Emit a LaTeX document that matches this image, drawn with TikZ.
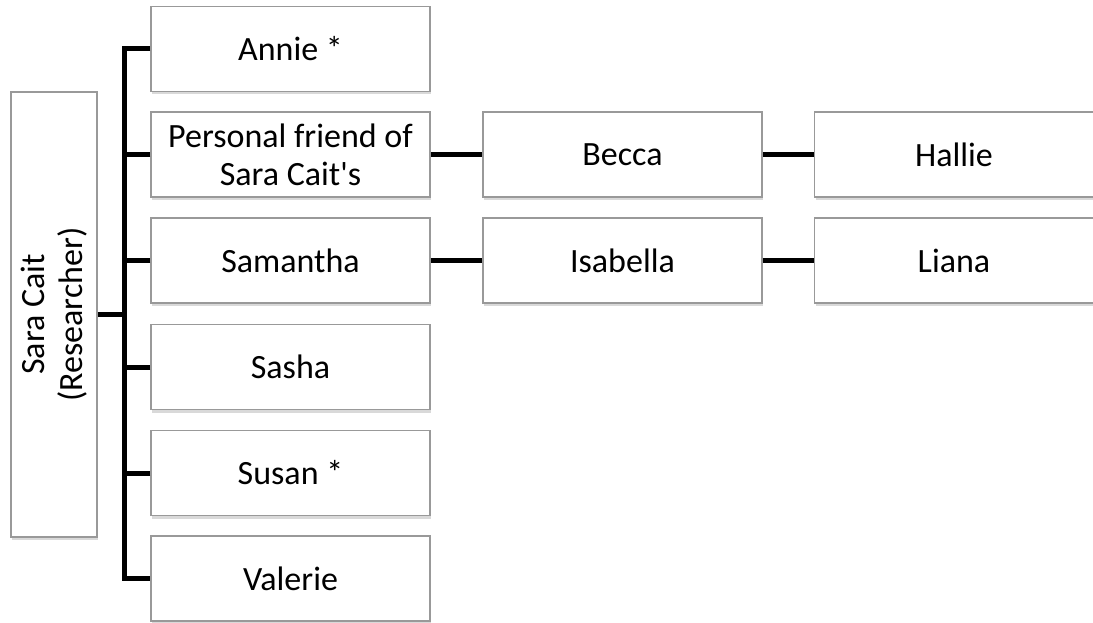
\documentclass[tikz,border=0pt]{standalone}
\usepackage{fontspec}
\setmainfont{Carlito}[Ligatures=TeXOff]
\usetikzlibrary{shadows}

\begin{document}
\begin{tikzpicture}[x=1pt,y=-1pt,
  person/.style={draw=black!40,line width=1.5pt,fill=white,
    minimum width=279pt,minimum height=85pt,inner sep=0pt,align=center,
    font=\fontsize{34}{38}\selectfont,
    drop shadow={shadow xshift=1pt,shadow yshift=-3pt,opacity=0.3}},
  link/.style={line width=5pt}]
  \useasboundingbox (0,0) rectangle (1093,623);
  % researcher
  \node[person,minimum width=445pt,minimum height=86pt,rotate=90] (root) at (54,314.5) {Sara Cait\\(Researcher)};
  \coordinate (trunk) at (124,315);
  % first wave
  \node[person] (annie) at (290.5,49) {Annie *};
  \node[person] (friend) at (290.5,154.5) {Personal friend of\\Sara Cait's};
  \node[person] (samantha) at (290.5,260.5) {Samantha};
  \node[person] (sasha) at (290.5,367) {Sasha};
  \node[person] (susan) at (290.5,473) {Susan *};
  \node[person] (valerie) at (290.5,578.5) {Valerie};
  % referrals
  \node[person] (becca) at (622.5,154.5) {Becca};
  \node[person] (hallie) at (954,154.5) {Hallie};
  \node[person] (isabella) at (622.5,260.5) {Isabella};
  \node[person] (liana) at (954,260.5) {Liana};
  \draw[link] (root.south) -- (root.south -| trunk);
  \draw[link] (annie.west) -- (annie.west -| trunk) -- (valerie.west -| trunk) -- (valerie.west);
  \foreach \n in {friend,samantha,sasha,susan}
    \draw[link] (\n.west) -- (\n.west -| trunk);
  \draw[link] (friend) -- (becca);
  \draw[link] (becca) -- (hallie);
  \draw[link] (samantha) -- (isabella);
  \draw[link] (isabella) -- (liana);
\end{tikzpicture}
\end{document}
